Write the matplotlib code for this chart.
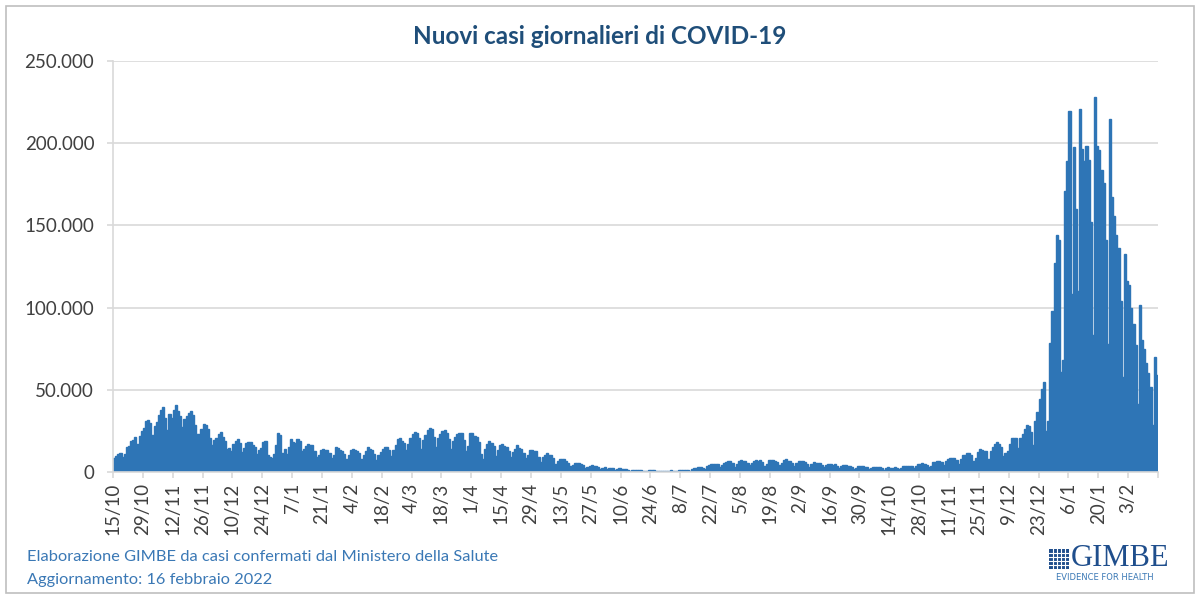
import numpy as np
import pandas as pd
import matplotlib
matplotlib.use('Agg')
import matplotlib.pyplot as plt
from matplotlib.patches import Rectangle
from matplotlib.ticker import FuncFormatter

# Nuovi casi giornalieri, dal 15/10/2020 al 16/02/2022
ott_2020 = [8804, 10010, 10925, 11705, 9338, 10874, 15199, 16079, 19143, 19644, 21273, 17012,
            21994, 24991, 26831, 31084, 31758]
nov_2020 = [29907, 22253, 28244, 30550, 34505, 37809, 39811, 32616, 25271, 35098, 32961, 37978,
            40902, 37255, 33979, 27354, 32191, 34283, 36176, 37242, 34767, 28337, 22930, 23232,
            25853, 29003, 28352, 26323, 20648, 16377]
dic_2020 = [19350, 20709, 23225, 24099, 21052, 18887, 13720, 14842, 12756, 16999, 18727, 19903,
            17938, 12030, 14844, 17572, 18236, 17992, 16308, 15104, 10872, 13318, 14522, 18040,
            19037, 10407, 8913, 8585, 11212, 16202, 23477]
gen_2021 = [22211, 11831, 14245, 10800, 15378, 20331, 18020, 17533, 19978, 18627, 12532, 14242,
            15774, 17246, 16146, 16310, 12545, 8824, 10497, 13571, 14078, 13633, 13331, 11629,
            8561, 10593, 15204, 14372, 13574, 12715, 11252]
feb_2021 = [7925, 10630, 13189, 14218, 13659, 12508, 11641, 7970, 10404, 12956, 15146, 13908,
            13532, 11068, 7351, 10386, 12074, 13762, 15479, 15370, 13452, 9630, 13314, 16424,
            19886, 20499, 18916, 17455]
mar_2021 = [13114, 17083, 20884, 22865, 24036, 23641, 20765, 13902, 19749, 22409, 25673, 26824,
            26062, 21315, 15267, 20396, 23059, 24935, 25735, 23832, 20159, 13846, 18765, 21267,
            22910, 23839, 23987, 19611, 12916, 16017, 23904]
apr_2021 = [23649, 21932, 21261, 18025, 10680, 7767, 13708, 17221, 18938, 17567, 15746, 9789,
            13447, 16168, 16974, 15943, 15370, 12694, 8864, 12074, 13844, 16232, 14761, 13817,
            11807, 8444, 10404, 13385, 13446, 12965]
mag_2021 = [12603, 9148, 5948, 9116, 10585, 11807, 10554, 10176, 8292, 5080, 6946, 7852,
            8085, 8080, 6659, 5753, 3455, 4452, 5506, 5741, 5218, 4717, 3995, 2490,
            3224, 3937, 4147, 3738, 3351, 2949, 1820]
giu_2021 = [2483, 2897, 1968, 2557, 2436, 2275, 1273, 1896, 2199, 2079, 1901, 1723,
            1390, 907, 1255, 1400, 1197, 1356, 1197, 881, 495, 835, 950, 927,
            952, 838, 728, 389, 679, 776]
lug_2021 = [882, 794, 932, 808, 480, 907, 1010, 1394, 1390, 1400, 1391, 888,
            1554, 2153, 2455, 3127, 3121, 2554, 1987, 3558, 4259, 5057, 5140, 5143,
            4794, 3117, 4522, 5696, 6171, 6619, 6513]
ago_2021 = [5321, 3190, 4845, 6596, 7230, 6599, 6838, 5664, 4197, 5512, 6968, 7409,
            6825, 7188, 6146, 3736, 4924, 7162, 7260, 7224, 6860, 5959, 4168, 5264,
            7548, 7826, 6933, 6435, 5315, 3812, 5498]
set_2021 = [6503, 6761, 6735, 5941, 4664, 3234, 4598, 5923, 5577, 5193, 5315, 4458,
            2800, 4021, 4830, 4587, 4552, 4578, 3525, 2407, 3377, 4042, 3970, 3797,
            3663, 2994, 1779, 2612, 3712, 3804]
ott_2021 = [3405, 3312, 2900, 1612, 2466, 3235, 2970, 3023, 2748, 2278, 1516, 2494,
            2772, 2668, 2732, 2983, 2437, 1597, 2698, 3702, 3794, 3882, 3908, 3725,
            2535, 3834, 4598, 4866, 5335, 4878, 4526]
nov_2021 = [2818, 3405, 5830, 6134, 6764, 6585, 5784, 4197, 6410, 7891, 8569, 8516,
            8544, 7569, 5144, 7698, 10172, 10638, 11555, 11600, 10544, 6404, 8579, 12448,
            13764, 13686, 12877, 12932, 7975, 12764]
dic_2021 = [15085, 16806, 17959, 16899, 15021, 9503, 11632, 12527, 17012, 20497, 20677, 20642,
            14441, 20667, 23195, 26109, 28632, 28064, 24259, 16213, 30798, 36293, 44595, 50599,
            54762, 24883, 30810, 78313, 98030, 126888, 144243]
gen_2022 = [141262, 61046, 68052, 170844, 189109, 219441, 108304, 197552, 160000, 110000, 220532, 196224,
            189000, 198000, 190000, 152000, 83403, 228179, 198000, 196000, 184000, 176000, 141000, 77696,
            215000, 167206, 156000, 143898, 136000, 104000, 57715]
feb_2022 = [132600, 116000, 114000, 99522, 90000, 77029, 41247, 101864, 80000, 75020, 66467, 60106,
            51959, 28630, 69893, 59000]

casi = (ott_2020 + nov_2020 + dic_2020 + gen_2021 + feb_2021 + mar_2021 + apr_2021 + mag_2021
        + giu_2021 + lug_2021 + ago_2021 + set_2021 + ott_2021 + nov_2021 + dic_2021
        + gen_2022 + feb_2022)
giorni = pd.date_range('2020-10-15', periods=len(casi), freq='D')

tick_idx = np.arange(0, len(casi), 14)
tick_labels = [f"{d.day}/{d.month}" for d in giorni[tick_idx]]

blu = '#2E75B6'
grigio = '#D9D9D9'
plt.rcParams['font.family'] = ['Lato', 'DejaVu Sans']

fig = plt.figure(figsize=(12, 5.98), dpi=100)
ax = fig.add_axes([113 / 1200, 1 - 472 / 598, (1158 - 113) / 1200, (472 - 61) / 598])

x = np.arange(len(casi))
ax.bar(x, casi, width=1.0, align='edge', color=blu, edgecolor=blu, linewidth=1.0)

ax.set_xlim(0, len(casi))
ax.set_ylim(0, 250000)
ax.set_yticks(np.arange(0, 250001, 50000))
ax.yaxis.set_major_formatter(FuncFormatter(lambda v, p: f"{int(v):,}".replace(',', '.')))
ax.set_xticks(tick_idx)
ax.set_xticklabels(tick_labels, rotation=90)
ax.set_xticks([len(casi)], minor=True)

ax.grid(axis='y', color=grigio, linewidth=1.2)
ax.set_axisbelow(True)
for s in ['top', 'right']:
    ax.spines[s].set_visible(False)
for s in ['left', 'bottom']:
    ax.spines[s].set_color(grigio)
    ax.spines[s].set_linewidth(1.2)
ax.tick_params(axis='both', which='both', color=grigio, width=1.2, length=4.5,
               labelcolor='#404040', labelsize=13.5)
ax.tick_params(axis='y', pad=9)
ax.tick_params(axis='x', pad=3)

fig.text(0.5, 1 - 37 / 598, 'Nuovi casi giornalieri di COVID-19', ha='center', va='center',
         fontsize=17.5, fontweight='bold', color='#1F4E79')

fig.text(27 / 1200, 1 - 557 / 598, 'Elaborazione GIMBE da casi confermati dal Ministero della Salute',
         ha='left', va='center', fontsize=11.8, color='#3A78B5')
fig.text(27 / 1200, 1 - 580 / 598, 'Aggiornamento: 16 febbraio 2022',
         ha='left', va='center', fontsize=11.8, color='#3A78B5')

# logo GIMBE
logo = fig.add_axes([1049 / 1200, 1 - 569 / 598, 20 / 1200, 20 / 598])
logo.add_patch(Rectangle((0, 0), 1, 1, color='#1F4E8C'))
for t in np.linspace(0.2, 0.8, 4):
    logo.plot([t, t], [0, 1], color='white', lw=0.8)
    logo.plot([0, 1], [t, t], color='white', lw=0.8)
logo.set_xlim(0, 1)
logo.set_ylim(0, 1)
logo.axis('off')
fig.text(1071 / 1200, 1 - 559 / 598, 'GIMBE', ha='left', va='center', fontsize=22,
         family='Liberation Serif', color='#1F4E8C')
fig.text(1105 / 1200, 1 - 578 / 598, 'EVIDENCE FOR HEALTH', ha='center', va='center', fontsize=6,
         family='DejaVu Sans', color='#3A78B5')

# cornice
fig.add_artist(Rectangle((6 / 1200, 5 / 598), 1188 / 1200, 587 / 598, transform=fig.transFigure,
                         fill=False, edgecolor='#BFBFBF', linewidth=1.2))

fig.savefig('out.png', dpi=100)
